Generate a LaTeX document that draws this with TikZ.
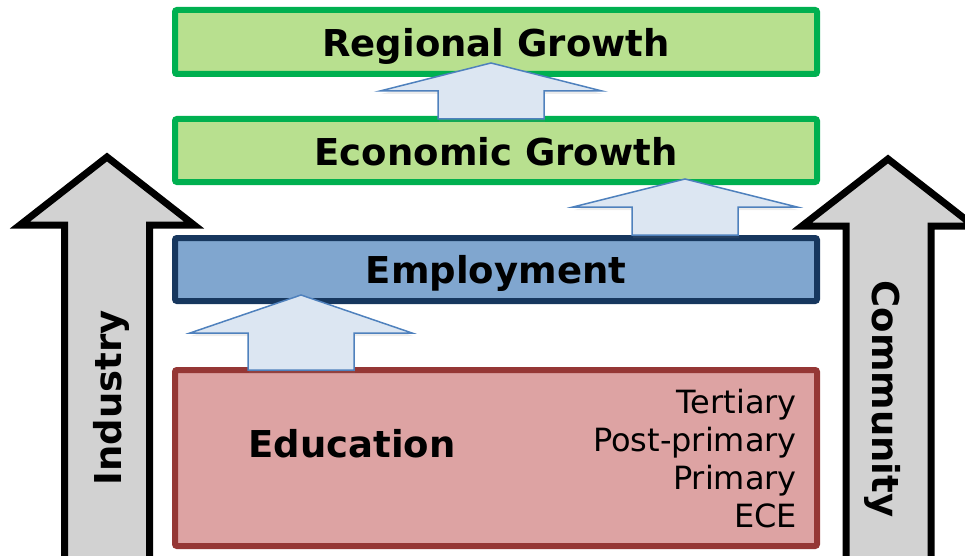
\documentclass[tikz,border=0pt]{standalone}
\usepackage{fontspec}
\setmainfont{DejaVu Sans}
\usetikzlibrary{shadows}

\definecolor{growthfill}{RGB}{184,224,143}
\definecolor{growthline}{RGB}{0,176,80}
\definecolor{jobfill}{RGB}{128,166,207}
\definecolor{jobline}{RGB}{23,55,94}
\definecolor{edufill}{RGB}{221,163,163}
\definecolor{eduline}{RGB}{149,55,53}
\definecolor{liftfill}{RGB}{220,230,242}
\definecolor{liftline}{RGB}{79,129,189}
\definecolor{sidefill}{RGB}{210,210,210}

\tikzset{
  tier/.style={draw, line width=6pt, rounded corners=2pt, minimum width=642pt, inner sep=0pt},
  lift/.style={draw=liftline, fill=liftfill, line width=1.5pt, line join=miter,
    drop shadow={shadow xshift=1pt, shadow yshift=-3pt, opacity=.15}},
  pillar/.style={draw=black, fill=sidefill, line width=7pt, line join=miter},
  bigtext/.style={inner sep=0pt, font=\bfseries\fontsize{37}{44}\selectfont},
  listtext/.style={inner sep=0pt, anchor=base east, font=\fontsize{32}{38}\selectfont}
}

\begin{document}
\begin{tikzpicture}[x=1pt, y=-1pt]
    \useasboundingbox (0,0) rectangle (965,556);

    % side pillars
    \draw[pillar] (64.5,575) -- (64.5,225) -- (20,225) -- (107,157) -- (194,225) -- (149.5,225) -- (149.5,575) -- cycle;
    \draw[pillar] (846,575) -- (846,226) -- (802,226) -- (888,159) -- (974,226) -- (931,226) -- (931,575) -- cycle;
    \node[bigtext, rotate=90, anchor=base] (industry) at (121,398) {Industry};
    \node[bigtext, rotate=-90, anchor=base] (community) at (872,399) {Community};

    % tiers
    \node[tier, draw=growthline, fill=growthfill, minimum height=64pt] (region) at (496,42) {};
    \node[tier, draw=growthline, fill=growthfill, minimum height=63pt] (economy) at (496,150.5) {};
    \node[tier, draw=jobline, fill=jobfill, minimum height=63pt] (jobs) at (496,269.5) {};
    \node[tier, draw=eduline, fill=edufill, minimum height=176pt] (edu) at (496,458) {};

    % lifts between tiers
    \draw[lift] (438,119) -- (438,91) -- (380,91) -- (491,63) -- (602,91) -- (544,91) -- (544,119) -- cycle;
    \draw[lift] (632,235) -- (632,207) -- (573,207) -- (685,179) -- (797,207) -- (738,207) -- (738,235) -- cycle;
    \draw[lift] (248,370) -- (248,333) -- (190,333) -- (301,295) -- (412,333) -- (354,333) -- (354,370) -- cycle;

    \node[bigtext, anchor=base] (regiontext) at (496,57) {Regional Growth};
    \node[bigtext, anchor=base] (economytext) at (496,166) {Economic Growth};
    \node[bigtext, anchor=base] (jobstext) at (496,283) {Employment};
    \node[bigtext, anchor=base] (edutext) at (352,457) {Education};

    \node[listtext] (tertiary) at (797,413) {Tertiary};
    \node[listtext] (postprimary) at (797,451) {Post-primary};
    \node[listtext] (primary) at (797,489) {Primary};
    \node[listtext] (ece) at (797,527) {ECE};
\end{tikzpicture}
\end{document}
